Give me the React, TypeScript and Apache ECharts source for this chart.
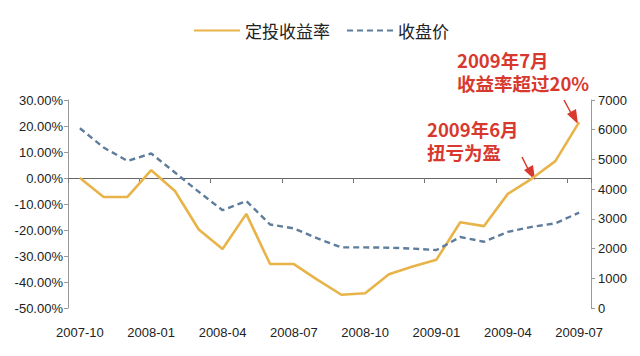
import React, { useEffect, useRef } from "react";
import * as echarts from "echarts";

const months = [
  "2007-10", "2007-11", "2007-12", "2008-01", "2008-02", "2008-03", "2008-04",
  "2008-05", "2008-06", "2008-07", "2008-08", "2008-09", "2008-10", "2008-11",
  "2008-12", "2009-01", "2009-02", "2009-03", "2009-04", "2009-05", "2009-06", "2009-07",
];
const returnRate = [
  0, -7.3, -7.3, 3.0, -5.0, -19.8, -27.3, -13.8, -33.1, -33.1, -39.2, -44.9, -44.3,
  -37.0, -34.0, -31.4, -17.0, -18.5, -6.1, -0.3, 6.5, 21.5,
];
const closePrice = [
  6050, 5400, 4950, 5200, 4560, 3910, 3290, 3600, 2810, 2680, 2340, 2040, 2040,
  2030, 2000, 1950, 2390, 2230, 2560, 2730, 2850, 3210,
];
const seriesNames = ["定投收益率", "收盘价"];
const noteJuly = ["2009年7月", "收益率超过20%"];
const noteJune = ["2009年6月", "扭亏为盈"];

const RED = "#D8392F";
const FONT = "'Liberation Sans', 'Noto Sans CJK SC', sans-serif";
const CJK = "'Noto Sans CJK SC', sans-serif";

export default function App() {
  const ref = useRef<HTMLDivElement>(null);
  useEffect(() => {
    if (!ref.current) return;
    const chart = echarts.init(ref.current, undefined, { renderer: "svg" });
    const noteText = (lines: string[], x: number, y: number) => ({
      type: "text",
      x,
      y,
      style: {
        text: lines.join("\n"),
        fill: RED,
        font: `bold 18.5px ${CJK}`,
        lineHeight: 23,
        verticalAlign: "top",
        align: "left",
      },
    });
    chart.setOption({
      animation: false,
      backgroundColor: "#ffffff",
      legend: {
        left: 188,
        top: 17,
        itemWidth: 46,
        itemHeight: 14,
        itemGap: 16,
        itemStyle: { opacity: 0 },
        data: seriesNames,
        textStyle: { fontSize: 17, color: "#222", fontFamily: CJK },
      },
      grid: { left: 68, right: 49, top: 100, bottom: 48 },
      xAxis: [
        {
          type: "category",
          data: months,
          position: "bottom",
          boundaryGap: true,
          axisLine: { show: false, onZero: false },
          axisTick: { show: false },
          axisLabel: { interval: 2, margin: 18, fontSize: 13, color: "#222", fontFamily: FONT },
        },
        {
          type: "category",
          data: months,
          position: "top",
          boundaryGap: true,
          axisLine: { show: true, onZero: true, onZeroAxisIndex: 0, lineStyle: { color: "#666", width: 1 } },
          axisTick: { show: true, interval: 2, inside: true, length: 5, lineStyle: { color: "#777" } },
          axisLabel: { show: false },
        },
      ],
      yAxis: [
        {
          type: "value",
          min: -50,
          max: 30,
          interval: 10,
          position: "left",
          axisLine: { show: true, lineStyle: { color: "#999" } },
          axisTick: { show: true, length: 4, lineStyle: { color: "#999" } },
          splitLine: { show: false },
          axisLabel: {
            margin: 5,
            fontSize: 13,
            color: "#222",
            fontFamily: FONT,
            formatter: (v: number) => v.toFixed(2) + "%",
          },
        },
        {
          type: "value",
          min: 0,
          max: 7000,
          interval: 1000,
          position: "right",
          axisLine: { show: true, lineStyle: { color: "#999" } },
          axisTick: { show: true, length: 4, lineStyle: { color: "#999" } },
          splitLine: { show: false },
          axisLabel: {
            margin: 7,
            fontSize: 13,
            color: "#222",
            fontFamily: FONT,
            formatter: (v: number) => String(v),
          },
        },
      ],
      series: [
        {
          name: seriesNames[0],
          type: "line",
          xAxisIndex: 0,
          yAxisIndex: 0,
          data: returnRate,
          symbol: "none",
          color: "#E8B44A",
          lineStyle: { color: "#E8B44A", width: 2.6 },
        },
        {
          name: seriesNames[1],
          type: "line",
          xAxisIndex: 0,
          yAxisIndex: 1,
          data: closePrice,
          symbol: "none",
          color: "#5E7C9B",
          lineStyle: { color: "#5E7C9B", width: 2.4, type: [6, 4] },
        },
      ],
      graphic: [
        noteText(noteJuly, 457, 48),
        noteText(noteJune, 427, 117),
        {
          type: "line",
          shape: { x1: 564, y1: 100, x2: 572, y2: 115 },
          style: { stroke: RED, lineWidth: 1.5 },
        },
        {
          type: "polygon",
          shape: { points: [[567, 114], [576, 109], [578, 124]] },
          style: { fill: RED },
        },
        {
          type: "line",
          shape: { x1: 522, y1: 157, x2: 529, y2: 171 },
          style: { stroke: RED, lineWidth: 1.5 },
        },
        {
          type: "polygon",
          shape: { points: [[524, 170], [533, 165], [535, 180]] },
          style: { fill: RED },
        },
      ],
    });
    return () => chart.dispose();
  }, []);
  return (
    <div
      ref={ref}
      style={{ position: "absolute", left: 0, top: 0, width: 640, height: 356 }}
    />
  );
}
